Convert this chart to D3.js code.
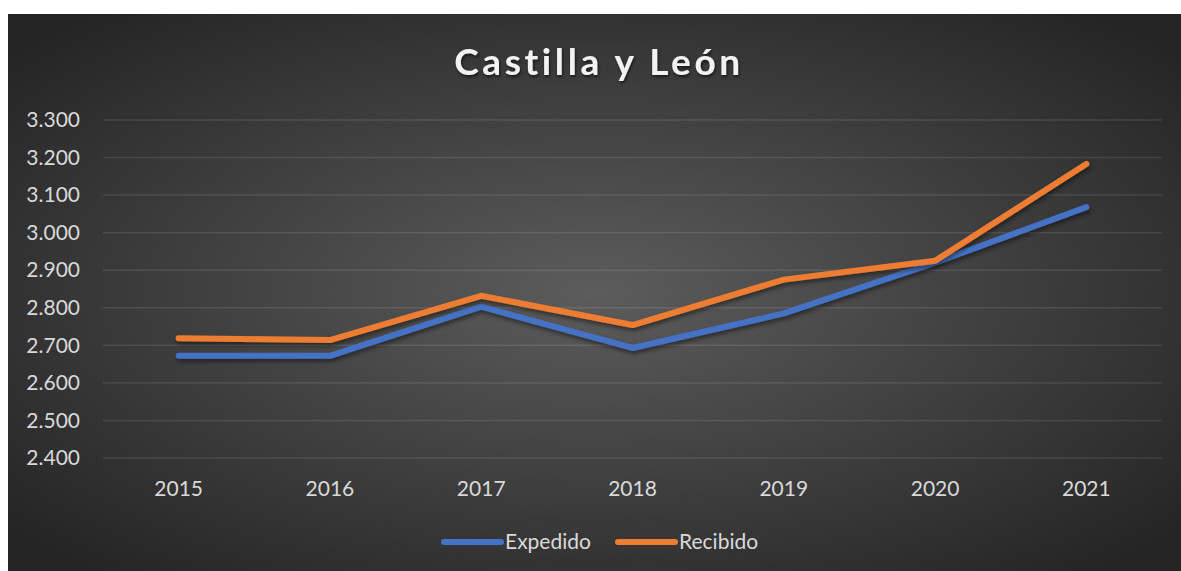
<!DOCTYPE html>
<html>
<head>
<meta charset="utf-8">
<script src="https://cdn.jsdelivr.net/npm/d3@7"></script>
<style>
  body { margin: 0; background: #fff; }
  text { font-family: Lato, "Open Sans", sans-serif; }
</style>
</head>
<body>
<div id="chart"></div>
<script>
// data
var years = ["2015", "2016", "2017", "2018", "2019", "2020", "2021"];
var expedido = [2672, 2672, 2803, 2693, 2785, 2920, 3068];
var recibido = [2719, 2714, 2832, 2754, 2875, 2925, 3183];
var yTicks = [2400, 2500, 2600, 2700, 2800, 2900, 3000, 3100, 3200, 3300];
var seriesNames = ["Expedido", "Recibido"];
var colors = ["#4472C4", "#ED7D31"];

var W = 1181, H = 571;
var margin = { top: 120, left: 103, right: 19, bottom: 113 };

var svg = d3.select("#chart").append("svg")
  .attr("width", W).attr("height", H);

var defs = svg.append("defs");
var grad = defs.append("radialGradient").attr("id", "bg")
  .attr("cx", "50%").attr("cy", "50%").attr("r", "65%");
grad.append("stop").attr("offset", "0%").attr("stop-color", "#5c5c5c");
grad.append("stop").attr("offset", "100%").attr("stop-color", "#252525");

var shadow = defs.append("filter").attr("id", "shadow")
  .attr("x", "-5%").attr("y", "-20%").attr("width", "110%").attr("height", "140%");
shadow.append("feDropShadow").attr("dx", 1).attr("dy", 3)
  .attr("stdDeviation", 2).attr("flood-color", "#000").attr("flood-opacity", 0.45);

var tShadow = defs.append("filter").attr("id", "tshadow");
tShadow.append("feDropShadow").attr("dx", 1).attr("dy", 2)
  .attr("stdDeviation", 1.5).attr("flood-color", "#000").attr("flood-opacity", 0.6);

// background
svg.append("rect").attr("x", 8).attr("y", 14)
  .attr("width", W - 8).attr("height", H - 14)
  .attr("fill", "url(#bg)");

var x = d3.scaleBand().domain(years)
  .range([margin.left, W - margin.right]);

var y = d3.scaleLinear().domain([2400, 3300])
  .range([H - margin.bottom, margin.top]);

// gridlines
svg.append("g").selectAll("line")
  .data(yTicks).enter().append("line")
  .attr("x1", margin.left).attr("x2", W - margin.right)
  .attr("y1", d => y(d)).attr("y2", d => y(d))
  .attr("stroke", "#ffffff").attr("stroke-opacity", 0.1)
  .attr("stroke-width", 1.5);

var fmt = d => d3.format(",")(d).replace(",", ".");

// y axis labels
var yAxis = svg.append("g")
  .attr("transform", "translate(" + (margin.left - 23) + ",0)")
  .call(d3.axisLeft(y).tickValues(yTicks).tickFormat(fmt).tickSize(0));
yAxis.select(".domain").remove();
yAxis.selectAll("text")
  .attr("x", 0).attr("fill", "#d9d9d9")
  .style("font-size", "21px").style("font-family", "Lato, 'Open Sans', sans-serif");

// x axis labels
var xAxis = svg.append("g")
  .attr("transform", "translate(0," + (H - margin.bottom) + ")")
  .call(d3.axisBottom(x).tickSize(0));
xAxis.select(".domain").remove();
xAxis.selectAll("text")
  .attr("y", 23).attr("fill", "#d9d9d9")
  .style("font-size", "21px").style("font-family", "Lato, 'Open Sans', sans-serif");

// lines
var line = d3.line()
  .x((d, i) => x(years[i]) + x.bandwidth() / 2)
  .y(d => y(d));

[expedido, recibido].forEach(function(s, i) {
  svg.append("path")
    .datum(s)
    .attr("d", line)
    .attr("fill", "none")
    .attr("stroke", colors[i])
    .attr("stroke-width", 6)
    .attr("stroke-linecap", "round")
    .attr("stroke-linejoin", "round")
    .attr("filter", "url(#shadow)");
});

// title
svg.append("text")
  .attr("x", 599).attr("y", 75)
  .attr("text-anchor", "middle")
  .attr("fill", "#f2f2f2")
  .attr("filter", "url(#tshadow)")
  .style("font-size", "37px").style("font-weight", "bold")
  .style("letter-spacing", "3.6px")
  .text("Castilla y León");

// legend
var legendX = [444, 618];
var legend = svg.append("g").selectAll("g")
  .data(seriesNames).enter().append("g")
  .attr("transform", (d, i) => "translate(" + legendX[i] + ",542)");
legend.append("line")
  .attr("x1", 0).attr("x2", 57).attr("y1", 0).attr("y2", 0)
  .attr("stroke", (d, i) => colors[i])
  .attr("stroke-width", 6).attr("stroke-linecap", "round");
legend.append("text")
  .attr("x", 61).attr("y", 7)
  .attr("fill", "#d9d9d9")
  .style("font-size", "21px")
  .text(d => d);
</script>
</body>
</html>
